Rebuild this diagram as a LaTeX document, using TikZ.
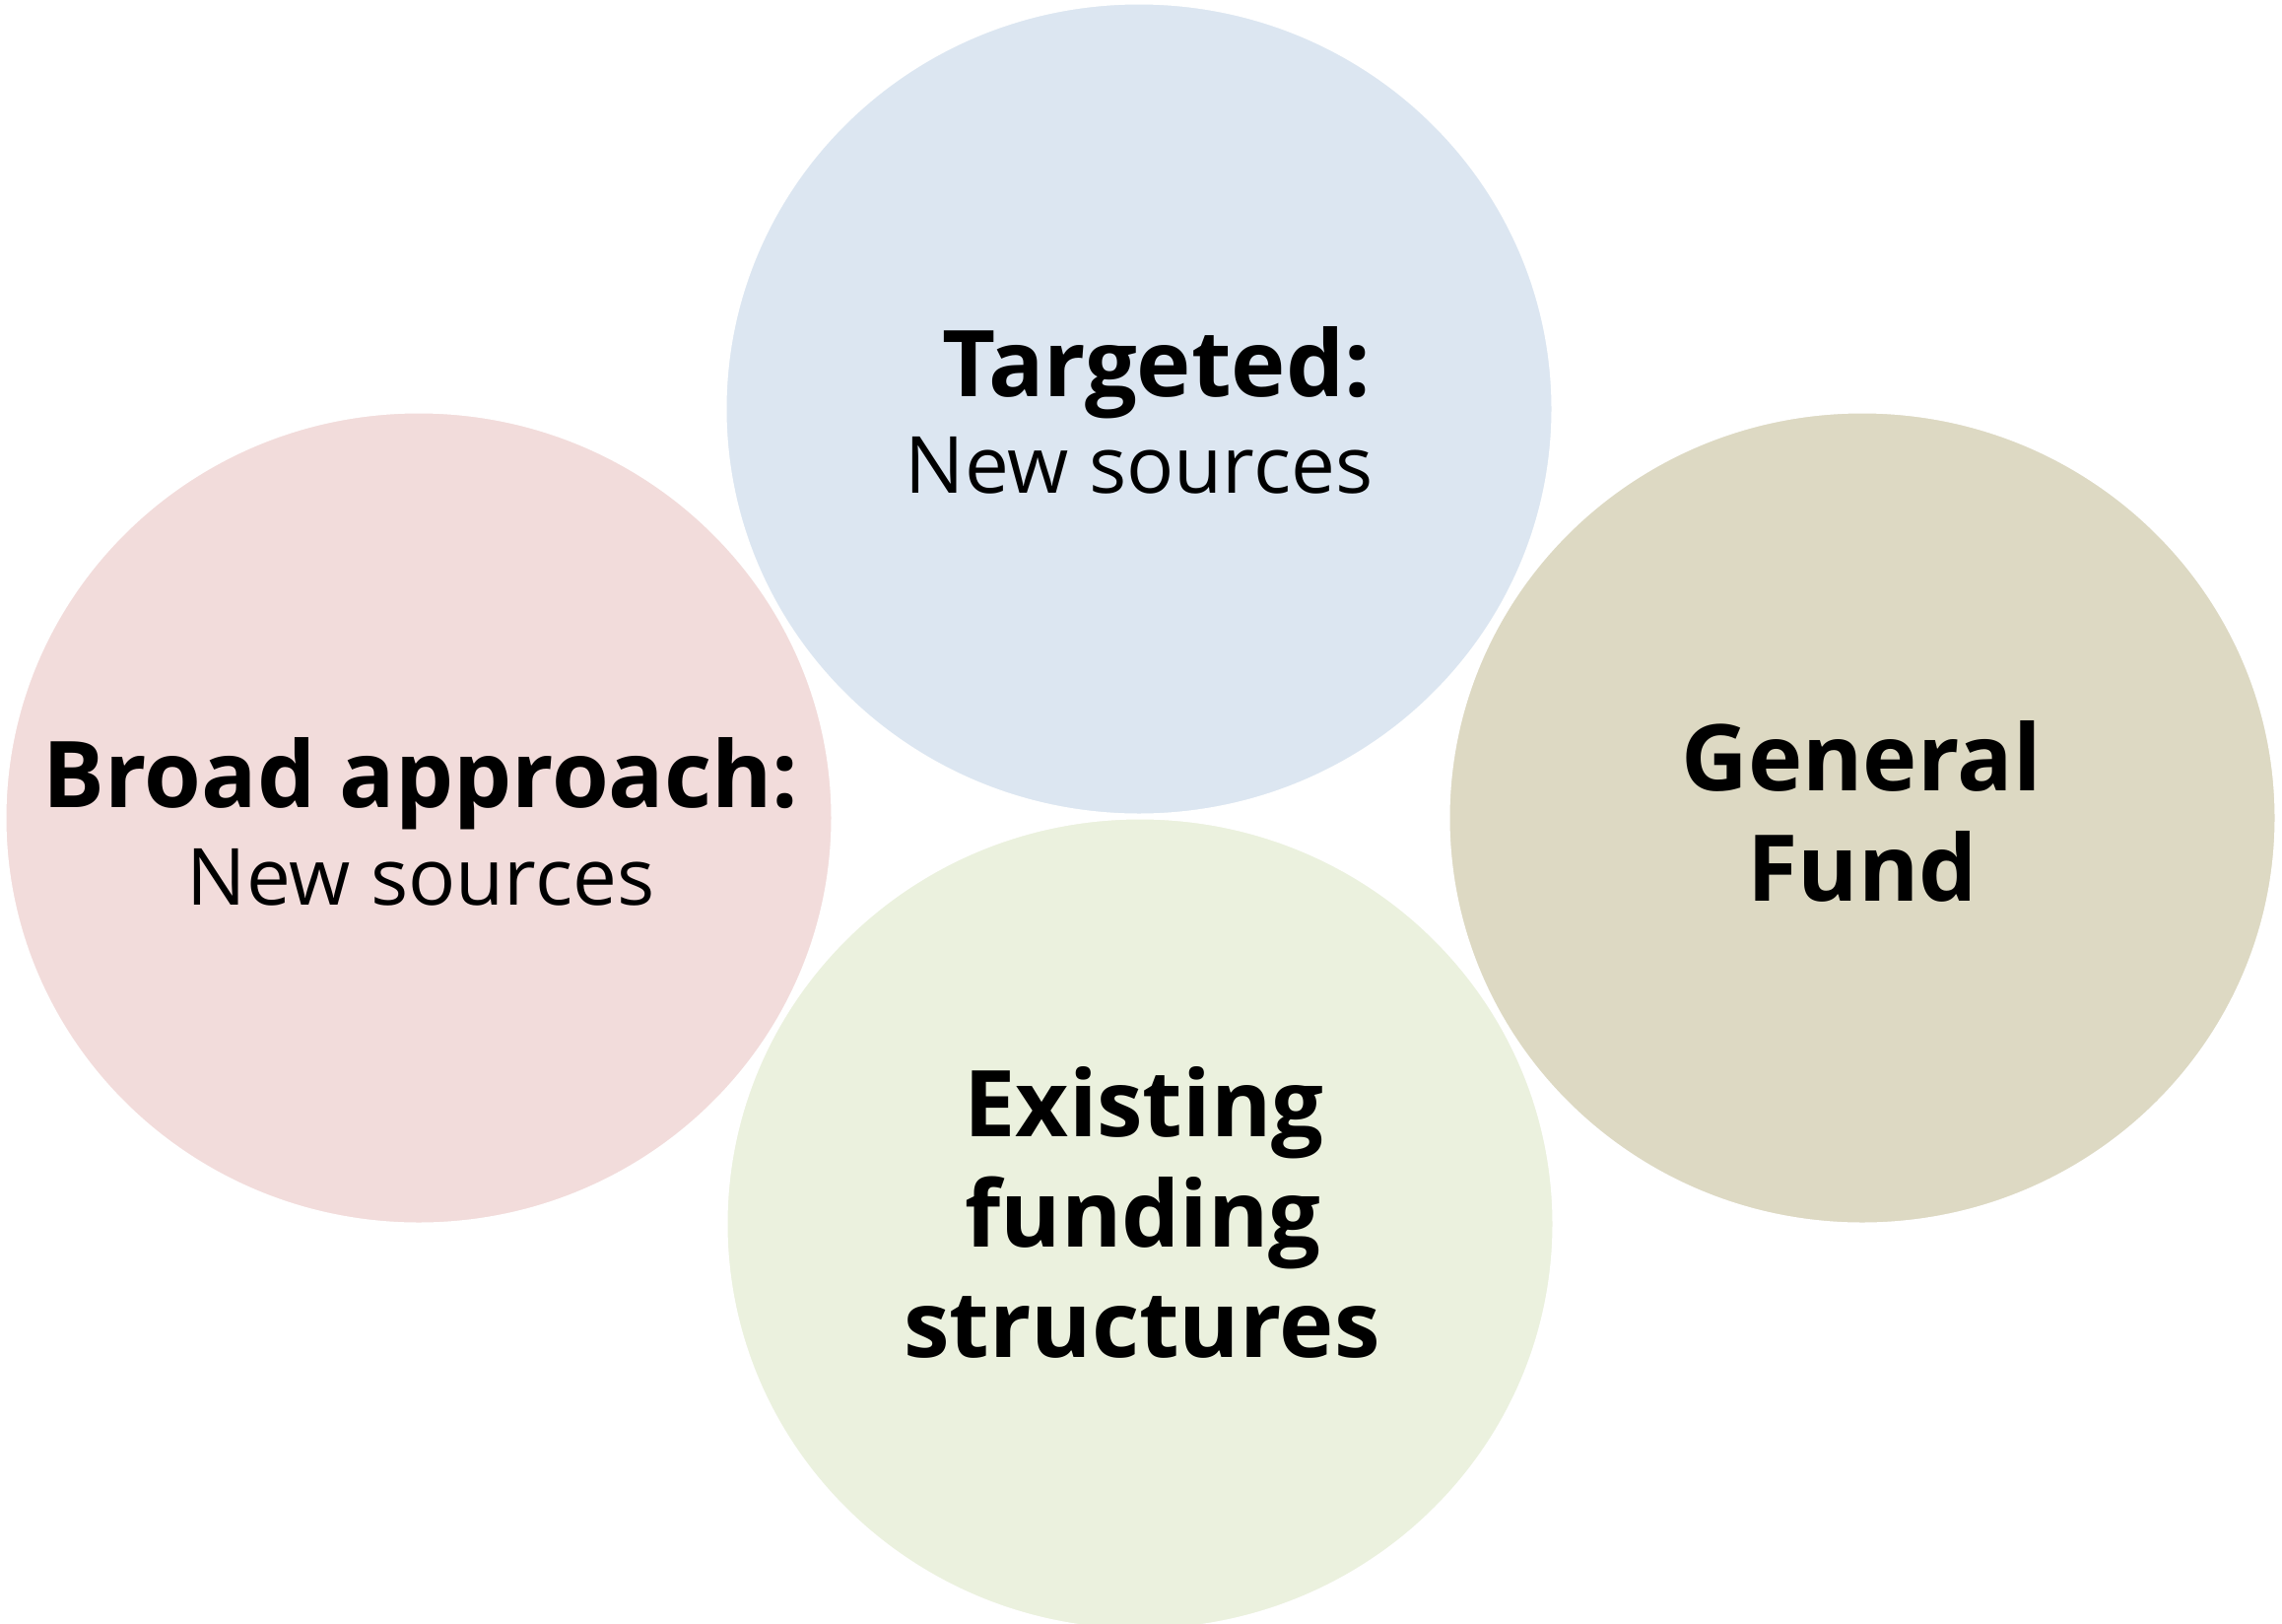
\documentclass[tikz,border=0pt]{standalone}
\usepackage{fontspec}
\setmainfont{Open Sans}
\usetikzlibrary{shapes.geometric}
\definecolor{cblue}{HTML}{DCE6F1}
\definecolor{cpink}{HTML}{F2DCDB}
\definecolor{ctan}{HTML}{DDD9C3}
\definecolor{cgreen}{HTML}{EBF1DE}
\tikzset{
  bubble/.style={ellipse, draw=white, line width=3pt, minimum width=840pt, minimum height=824pt, inner sep=0pt},
  headtxt/.style={font=\fontsize{93.5}{112}\selectfont\bfseries, inner sep=0pt, anchor=base},
  subtxt/.style={font=\fontsize{80}{96}\selectfont, inner sep=0pt, anchor=base},
}
\begin{document}
\begin{tikzpicture}[x=1pt,y=-1pt]
\useasboundingbox (0,0) rectangle (2316,1647);
\node[bubble, fill=cpink] (broad) at (425,830) {};
\node[bubble, fill=ctan] (general) at (1890,830) {};
\node[bubble, fill=cblue] (targeted) at (1156,415) {};
\node[bubble, fill=cgreen] (existing) at (1157,1242) {};
% texts
\node[headtxt] (broadh) at (427,819) {Broad approach:};
\node[subtxt] (broads) at (427,918) {New sources};
\node[headtxt, anchor=base east] (targh) at (1391,402) {Targeted:};
\node[subtxt] (targs) at (1156,500) {New sources};
\node[headtxt] (genh1) at (1889,802) {General};
\node[headtxt] (genh2) at (1890,914) {Fund};
\node[headtxt] (exh1) at (1161,1153) {Existing};
\node[headtxt] (exh2) at (1160,1265) {funding};
\node[headtxt] (exh3) at (1159,1377) {structures};
\end{tikzpicture}
\end{document}
